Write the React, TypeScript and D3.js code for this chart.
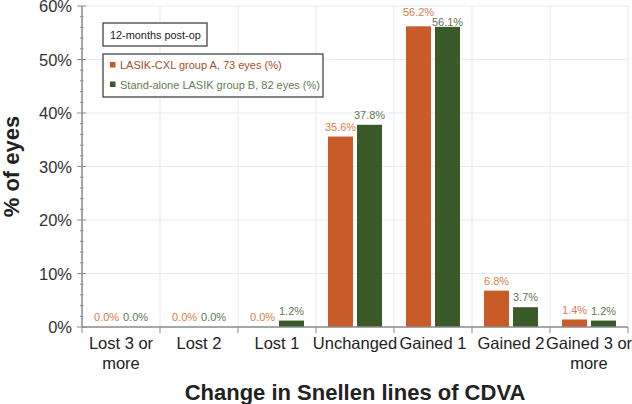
import React from "react";
import * as d3 from "d3";

const categories = ["Lost 3 or more", "Lost 2", "Lost 1", "Unchanged", "Gained 1", "Gained 2", "Gained 3 or more"];
const groupA = [0.0, 0.0, 0.0, 35.6, 56.2, 6.8, 1.4];
const groupB = [0.0, 0.0, 1.2, 37.8, 56.1, 3.7, 1.2];
const seriesNames = ["LASIK-CXL group A, 73 eyes (%)", "Stand-alone LASIK group B, 82 eyes (%)"];
const legendTitle = "12-months post-op";
const yTicks = [0, 10, 20, 30, 40, 50, 60];
const xTitle = "Change in Snellen lines of CDVA";
const yTitle = "% of eyes";

const W = 632, H = 404;
const M = { left: 82, right: 4, top: 6, bottom: 77 };
const FONT = "'Liberation Sans', Arial, Helvetica, sans-serif";
const BAR_COLORS = ["#c95b28", "#3b5a29"];
const LABEL_COLORS = ["#de7a4c", "#5c7a4e"];
const LEGEND_TEXT = ["#a3502c", "#5f7d50"];

let ctx: CanvasRenderingContext2D | null = null;
function measure(t: string, size: number, weight = "normal") {
  if (!ctx) ctx = document.createElement("canvas").getContext("2d");
  if (!ctx) return t.length * size * 0.55;
  ctx.font = `${weight} ${size}px ${FONT}`;
  return ctx.measureText(t).width;
}
function wrap(t: string, maxW: number, size: number) {
  const words = t.split(" ");
  const lines: string[] = [];
  let cur = "";
  for (const w of words) {
    const test = cur ? cur + " " + w : w;
    if (cur && measure(test, size) > maxW) {
      lines.push(cur);
      cur = w;
    } else cur = test;
  }
  if (cur) lines.push(cur);
  return lines;
}

export default function App() {
  const x0 = d3.scaleBand<string>().domain(categories).range([M.left, W - M.right]).paddingInner(0).paddingOuter(0);
  const x1 = d3.scaleBand<string>().domain(["A", "B"]).range([0, x0.bandwidth()]).paddingInner(4 / 29).paddingOuter(12 / 29);
  const y = d3.scaleLinear().domain([0, 60]).range([H - M.bottom, M.top]);
  const series = [groupA, groupB];
  const keys = ["A", "B"];
  const minor = d3.range(0, 61, 2).filter((v) => v % 10 !== 0);
  const boundaries = d3.range(categories.length + 1).map((i) => M.left + i * x0.step());
  const catSize = 16.5;
  const labelSize = 11;

  // data labels with simple collision avoidance
  const labels: { x: number; y: number; text: string; color: string }[] = [];
  categories.forEach((c, i) => {
    const items = series.map((s, j) => ({
      x: (x0(c) as number) + (x1(keys[j]) as number) + x1.bandwidth() / 2,
      y: y(s[i]) - 10,
      v: s[i],
      text: d3.format(".1f")(s[i]) + "%",
      color: LABEL_COLORS[j],
    }));
    const [a, b] = items;
    const wA = measure(a.text, labelSize), wB = measure(b.text, labelSize);
    if (Math.abs(a.x - b.x) < (wA + wB) / 2 && Math.abs(a.y - b.y) < 10) {
      const mid = (a.y + b.y) / 2;
      if (a.v >= b.v) { a.y = mid - 5; b.y = mid + 5; } else { a.y = mid + 5; b.y = mid - 5; }
    }
    items.forEach((it) => labels.push(it));
  });

  const plotBottom = y(0);
  const legendX = 103;

  return (
    <svg width={W} height={H} style={{ position: "fixed", left: 0, top: 0, background: "#fff" }} fontFamily={FONT}>
      <rect width={W} height={H} fill="#fff" />
      {/* gridlines */}
      {yTicks.filter((v) => v > 0).map((v) => (
        <line key={"gy" + v} x1={M.left} x2={W - M.right} y1={y(v)} y2={y(v)} stroke="#e3e9f3" strokeWidth={1} />
      ))}
      {boundaries.slice(1).map((bx, i) => (
        <line key={"gx" + i} x1={bx} x2={bx} y1={M.top} y2={plotBottom} stroke="#e3e9f3" strokeWidth={1} />
      ))}
      {/* bars */}
      {categories.map((c, i) =>
        series.map((s, j) => (
          <rect
            key={c + j}
            x={(x0(c) as number) + (x1(keys[j]) as number)}
            y={y(s[i])}
            width={x1.bandwidth()}
            height={plotBottom - y(s[i])}
            fill={BAR_COLORS[j]}
          />
        ))
      )}
      {/* data labels */}
      {labels.map((l, i) => (
        <text key={"l" + i} x={l.x} y={l.y} textAnchor="middle" dominantBaseline="central" fontSize={labelSize} fill={l.color}>
          {l.text}
        </text>
      ))}
      {/* y axis */}
      <line x1={M.left} x2={M.left} y1={M.top} y2={plotBottom} stroke="#8a8a8a" strokeWidth={1.5} />
      {minor.map((v) => (
        <line key={"mn" + v} x1={M.left - 2} x2={M.left + 1.5} y1={y(v)} y2={y(v)} stroke="#8a8a8a" strokeWidth={1} />
      ))}
      {yTicks.map((v) => (
        <g key={"yt" + v}>
          <line x1={M.left - 5} x2={M.left + 4} y1={y(v)} y2={y(v)} stroke="#8a8a8a" strokeWidth={1} />
          <text x={M.left - 10} y={y(v)} textAnchor="end" dominantBaseline="central" fontSize={16.5} fill="#333">
            {v + "%"}
          </text>
        </g>
      ))}
      {/* x axis */}
      <line x1={M.left} x2={W - M.right} y1={plotBottom} y2={plotBottom} stroke="#8a8a8a" strokeWidth={1.5} />
      {boundaries.map((bx, i) => (
        <line key={"xt" + i} x1={bx} x2={bx} y1={plotBottom} y2={plotBottom + 6} stroke="#8a8a8a" strokeWidth={1} />
      ))}
      {categories.map((c) => {
        const lines = wrap(c, 95, catSize);
        const cx = (x0(c) as number) + x0.bandwidth() / 2;
        return (
          <text key={"ct" + c} x={cx} y={349} textAnchor="middle" fontSize={catSize} fill="#222">
            {lines.map((ln, k) => (
              <tspan key={k} x={cx} dy={k === 0 ? 0 : 20}>
                {ln}
              </tspan>
            ))}
          </text>
        );
      })}
      {/* axis titles */}
      <text x={(M.left + W - M.right) / 2} y={400} textAnchor="middle" fontSize={22} fontWeight="bold" fill="#222">
        {xTitle}
      </text>
      <text
        transform={`translate(19, ${(M.top + plotBottom) / 2}) rotate(-90)`}
        textAnchor="middle"
        fontSize={22}
        fontWeight="bold"
        fill="#222"
      >
        {yTitle}
      </text>
      {/* legend */}
      <rect x={legendX} y={23} width={104} height={23} fill="#fff" stroke="#444" strokeWidth={1.3} />
      <text x={legendX + 7} y={38.5} fontSize={10.9} fill="#222">
        {legendTitle}
      </text>
      <rect x={legendX} y={54} width={220} height={43} fill="#fff" stroke="#444" strokeWidth={1.3} />
      {seriesNames.map((n, j) => (
        <g key={"lg" + j}>
          <rect x={legendX + 7} y={62 + j * 19.5} width={5.5} height={5.5} fill={BAR_COLORS[j]} />
          <text x={legendX + 17} y={65 + j * 19.5} dominantBaseline="central" fontSize={11} fill={LEGEND_TEXT[j]}>
            {n}
          </text>
        </g>
      ))}
    </svg>
  );
}
